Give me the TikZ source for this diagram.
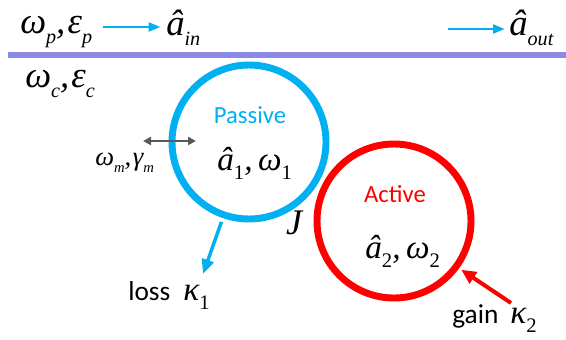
\documentclass[tikz,border=0pt]{standalone}
\usepackage{fontspec}
\usepackage{graphicx}
\setmainfont{Carlito}
\newfontfamily\tms{Liberation Serif}
\usetikzlibrary{arrows.meta}
\definecolor{cy}{HTML}{00B0F0}
\definecolor{lav}{HTML}{8B8BE6}
\definecolor{gr}{HTML}{595959}
\newcommand\mv[1]{{\tms\itshape #1}}
\newcommand\sbx[1]{\raisebox{-0.28em}{\scalebox{0.55}{\tms\itshape #1}}}
\newcommand\sbn[1]{\raisebox{-0.28em}{\scalebox{0.62}{\tms\upshape #1}}}
\begin{document}
\begin{tikzpicture}[x=0.75pt,y=-0.75pt,
  txt/.style={inner sep=0pt,anchor=base west},
  big/.style={font=\fontsize{27.5}{32}\selectfont},
  mid/.style={font=\fontsize{25}{30}\selectfont},
  sml/.style={font=\fontsize{20}{24}\selectfont},
  lab/.style={font=\fontsize{18.5}{22}\selectfont},
  lab2/.style={font=\fontsize{20.5}{24}\selectfont},
  ring/.style={circle,draw,line width=5.2pt,minimum size=115.5pt,inner sep=0pt},
  cyarrow/.style={draw=cy,line width=2.2pt,-{Triangle[length=9pt,width=6.5pt]}}]
\useasboundingbox (0,0) rectangle (566,339);
% waveguide
\coordinate (wgL) at (8,55);
\coordinate (wgR) at (566,55);
\draw[lav,line width=4.5pt] (wgL) -- (wgR);
% top labels
\node[txt,big] (wp) at (20,33) {\mv{ω}\sbx{p}\mv{,}\hspace{0.06em}\mv{ε}\sbx{p}};
\node[txt,big] (ain) at (166,35) {\mv{â}\sbx{in}};
\node[txt,big] (aout) at (509,35) {\mv{â}\sbx{out}};
\node[txt,big] (wc) at (25,87) {\mv{ω}\sbx{c}\mv{,}\hspace{0.06em}\mv{ε}\sbx{c}};
\coordinate (outstart) at (448,29);
\draw[cyarrow] (103,27) coordinate (instart) -- ([xshift=-4pt]ain.west |- instart) ;
\draw[cyarrow] (outstart) -- ([xshift=-3pt]aout.west |- outstart);
% rings
\node[ring,draw=cy] (p1) at (249,142) {};
\node[ring,draw=red] (a2) at (394,221) {};
\node[txt,lab,text=cy,anchor=base] (passive) at (250,123) {Passive};
\node[txt,mid] (a1) at (217,170) {\mv{â}\sbn{1}\mv{,\,ω}\sbn{1}};
\node[txt,lab,text=red,anchor=base] (active) at (395,202) {Active};
\node[txt,mid] (a2t) at (365,258) {\mv{â}\sbn{2}\mv{,\,ω}\sbn{2}};
\node[inner sep=0pt,font=\fontsize{27}{30}\selectfont] (J) at (294,223) {\mv{J}};
% mechanical
\node[txt,sml] (wm) at (95,165) {\mv{ω}\sbx{m}\mv{,}\hspace{0.06em}\mv{γ}\sbx{m}};
\coordinate (mL) at (143,141);
\coordinate (mR) at (196,141);
\draw[gr,line width=1.6pt,{Triangle[length=6pt,width=6pt]}-{Triangle[length=6pt,width=6pt]}] (mL) -- (mR);
% loss
\node[txt,lab2] (loss) at (128,300) {loss};
\node[txt,mid] (k1) at (183,300) {\mv{κ}\sbn{1}};
\coordinate (losstip) at (203,274);
\draw[draw=cy,line width=2.6pt,-{Triangle[length=11pt,width=9pt]},shorten <=3pt] (p1.251) -- (losstip);
% gain
\node[txt,lab2] (gain) at (452,323) {gain};
\node[txt,mid] (k2) at (510,323) {\mv{κ}\sbn{2}};
\coordinate (gainstart) at (511,303);
\draw[draw=red,line width=3pt,-{Triangle[length=11pt,width=10pt]},shorten >=2pt] (gainstart) -- (a2.-36);
\end{tikzpicture}
\end{document}
